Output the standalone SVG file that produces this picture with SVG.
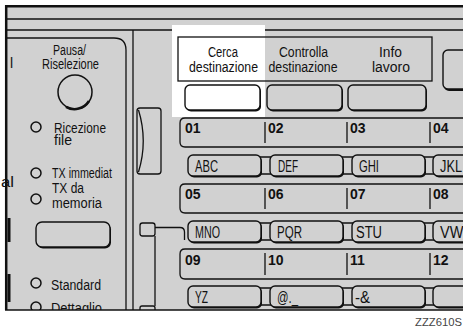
<svg xmlns="http://www.w3.org/2000/svg" width="463" height="329" viewBox="0 0 463 329">
<style>
text{font-family:"Liberation Sans","DejaVu Sans",sans-serif;fill:#111}
.lb{font-size:14px}
.num{font-size:14px;font-weight:bold}
.key{font-size:16px}
.ln{stroke:#111;stroke-width:1.3;fill:none}
.sh{fill:#111}
.btn{fill:#d1d1d1;stroke:#111;stroke-width:1.4}
.rad{fill:none;stroke:#111;stroke-width:1.5}
</style>
<defs>
<clipPath id="pc"><rect x="0" y="0" width="463" height="310"/></clipPath>
</defs>
<rect width="463" height="329" fill="#fff"/>
<g id="panel" clip-path="url(#pc)">
<rect x="6" y="6" width="460" height="304" fill="#d1d1d1"/>
<rect x="172" y="25" width="93" height="92" fill="#fff"/>
<line class="ln" x1="7" y1="19" x2="463" y2="19"/>
<path class="ln" d="M7 30 H172 M265 30 H463"/>
<path class="ln" d="M7 38 H114 Q126 38 126 50 V310"/>
<line class="ln" x1="133" y1="30" x2="133" y2="310"/>
<line x1="9" y1="218" x2="9" y2="242" stroke="#111" stroke-width="3"/>
<line x1="9" y1="274" x2="9" y2="302" stroke="#111" stroke-width="3"/>
</g>

<g id="left-panel" clip-path="url(#pc)">
<text class="lb" x="10" y="68">l</text>
<text class="lb" x="1" y="187" textLength="13" lengthAdjust="spacingAndGlyphs">al</text>
<g id="pausa">
<text class="lb" x="69.5" y="55" text-anchor="middle" textLength="33" lengthAdjust="spacingAndGlyphs">Pausa/</text>
<text class="lb" x="70.5" y="68.5" text-anchor="middle" textLength="57" lengthAdjust="spacingAndGlyphs">Riselezione</text>
<circle cx="75" cy="92" r="17" fill="none" stroke="#111" stroke-width="1.5"/>
<path d="M89 101 A17 17 0 0 1 66 106.8" fill="none" stroke="#111" stroke-width="2.5"/>
</g>
<g id="ricezione">
<circle class="rad" cx="36" cy="127" r="5"/>
<text class="lb" x="54" y="133" textLength="52" lengthAdjust="spacingAndGlyphs">Ricezione</text>
<text class="lb" x="54" y="144.5" textLength="18" lengthAdjust="spacingAndGlyphs">file</text>
</g>
<g id="tx-immediat">
<circle class="rad" cx="36" cy="173" r="5"/>
<text class="lb" x="52" y="177.5" textLength="60" lengthAdjust="spacingAndGlyphs">TX immediat</text>
</g>
<g id="tx-memoria">
<circle class="rad" cx="36" cy="199" r="5"/>
<text class="lb" x="52" y="193" textLength="32" lengthAdjust="spacingAndGlyphs">TX da</text>
<text class="lb" x="52" y="207.5" textLength="50" lengthAdjust="spacingAndGlyphs">memoria</text>
</g>
<g id="left-button">
<rect class="sh" x="37" y="223.5" width="74" height="25" rx="6"/>
<rect class="btn" x="36" y="222" width="74" height="25" rx="6"/>
</g>
<g id="standard">
<circle class="rad" cx="36" cy="283" r="5"/>
<text class="lb" x="51" y="290" textLength="50" lengthAdjust="spacingAndGlyphs">Standard</text>
</g>
<g id="dettaglio">
<circle class="rad" cx="36" cy="307" r="5"/>
<text class="lb" x="51" y="313" textLength="51" lengthAdjust="spacingAndGlyphs">Dettaglio</text>
</g>
</g>

<g id="side-parts" clip-path="url(#pc)">
<rect class="ln" x="137" y="108" width="24" height="66" rx="3"/>
<path class="ln" d="M138.5 110 Q148 141 138.5 172"/>
<rect class="ln" x="140" y="223" width="15" height="13" rx="2.5"/>
<rect class="ln" x="140" y="306" width="15" height="10" rx="2"/>
</g>

<g id="connectors" clip-path="url(#pc)">
<path class="ln" d="M155 227.5 H180 Q184.5 227.5 184.5 232 V240"/>
<line class="ln" x1="155" y1="236" x2="155" y2="306"/>
</g>

<g id="function-keys">
<rect class="ln" x="178" y="37" width="254" height="44"/>
<g id="cerca">
<text class="lb" x="223" y="57" text-anchor="middle" textLength="30" lengthAdjust="spacingAndGlyphs">Cerca</text>
<text class="lb" x="223.5" y="72" text-anchor="middle" textLength="69" lengthAdjust="spacingAndGlyphs">destinazione</text>
<rect class="sh" x="186" y="86.5" width="75" height="25" rx="5"/>
<rect x="185" y="85" width="75" height="25" rx="5" fill="#fff" stroke="#111" stroke-width="1.4"/>
</g>
<g id="controlla">
<text class="lb" x="303.5" y="57" text-anchor="middle" textLength="49" lengthAdjust="spacingAndGlyphs">Controlla</text>
<text class="lb" x="303" y="72" text-anchor="middle" textLength="69" lengthAdjust="spacingAndGlyphs">destinazione</text>
<rect class="sh" x="268" y="86.5" width="75" height="25" rx="5"/>
<rect class="btn" x="267" y="85" width="75" height="25" rx="5"/>
</g>
<g id="info">
<text class="lb" x="390.5" y="57" text-anchor="middle" textLength="23" lengthAdjust="spacingAndGlyphs">Info</text>
<text class="lb" x="391" y="72" text-anchor="middle" textLength="38" lengthAdjust="spacingAndGlyphs">lavoro</text>
<rect class="sh" x="349" y="86.5" width="78" height="25" rx="5"/>
<rect class="btn" x="348" y="85" width="78" height="25" rx="5"/>
</g>
<g id="right-key">
<rect class="sh" x="444" y="52" width="30" height="39" rx="5"/>
<rect class="btn" x="443" y="50" width="30" height="39" rx="5"/>
</g>
</g>

<g id="one-touch-row1">
<path class="ln" d="M470 118 H185 Q180 118 180 123 V142 Q180 147 185 147 H470"/>
<path class="ln" d="M265 122 V143 M347 122 V143 M430 122 V143"/>
<text class="num" x="185" y="133">01</text>
<text class="num" x="268" y="133">02</text>
<text class="num" x="350" y="133">03</text>
<text class="num" x="433" y="133">04</text>
</g>
<g id="letters-row1">
<rect class="btn" x="258" y="157" width="15" height="17" rx="2"/>
<rect class="btn" x="340" y="157" width="15" height="17" rx="2"/>
<rect class="btn" x="422" y="157" width="15" height="17" rx="2"/>
<g id="abc"><rect class="sh" x="189" y="156.5" width="73" height="21" rx="5"/><rect class="btn" x="188" y="155" width="73" height="21" rx="5"/><text class="key" x="195" y="172" textLength="23" lengthAdjust="spacingAndGlyphs">ABC</text></g>
<g id="def"><rect class="sh" x="271" y="156.5" width="73" height="21" rx="5"/><rect class="btn" x="270" y="155" width="73" height="21" rx="5"/><text class="key" x="278" y="172" textLength="20" lengthAdjust="spacingAndGlyphs">DEF</text></g>
<g id="ghi"><rect class="sh" x="353" y="156.5" width="73" height="21" rx="5"/><rect class="btn" x="352" y="155" width="73" height="21" rx="5"/><text class="key" x="359" y="172" textLength="20" lengthAdjust="spacingAndGlyphs">GHI</text></g>
<g id="jkl"><rect class="sh" x="434" y="156.5" width="73" height="21" rx="5"/><rect class="btn" x="433" y="155" width="73" height="21" rx="5"/><text class="key" x="440" y="172" textLength="22" lengthAdjust="spacingAndGlyphs">JKL</text></g>
</g>

<g id="one-touch-row2">
<path class="ln" d="M470 184 H185 Q180 184 180 189 V208 Q180 213 185 213 H470"/>
<path class="ln" d="M265 188 V209 M347 188 V209 M430 188 V209"/>
<text class="num" x="185" y="199">05</text>
<text class="num" x="268" y="199">06</text>
<text class="num" x="350" y="199">07</text>
<text class="num" x="433" y="199">08</text>
</g>
<g id="letters-row2">
<rect class="btn" x="258" y="223" width="15" height="17" rx="2"/>
<rect class="btn" x="340" y="223" width="15" height="17" rx="2"/>
<rect class="btn" x="422" y="223" width="15" height="17" rx="2"/>
<g id="mno"><rect class="sh" x="189" y="222.5" width="73" height="21" rx="5"/><rect class="btn" x="188" y="221" width="73" height="21" rx="5"/><text class="key" x="195" y="238" textLength="25" lengthAdjust="spacingAndGlyphs">MNO</text></g>
<g id="pqr"><rect class="sh" x="271" y="222.5" width="73" height="21" rx="5"/><rect class="btn" x="270" y="221" width="73" height="21" rx="5"/><text class="key" x="277" y="238" textLength="25" lengthAdjust="spacingAndGlyphs">PQR</text></g>
<g id="stu"><rect class="sh" x="353" y="222.5" width="73" height="21" rx="5"/><rect class="btn" x="352" y="221" width="73" height="21" rx="5"/><text class="key" x="356" y="238" textLength="26" lengthAdjust="spacingAndGlyphs">STU</text></g>
<g id="vwx"><rect class="sh" x="434" y="222.5" width="73" height="21" rx="5"/><rect class="btn" x="433" y="221" width="73" height="21" rx="5"/><text class="key" x="440" y="238" textLength="33" lengthAdjust="spacingAndGlyphs">VWX</text></g>
</g>

<g id="one-touch-row3">
<path class="ln" d="M470 249 H185 Q180 249 180 254 V274 Q180 279 185 279 H470"/>
<path class="ln" d="M265 253 V275 M347 253 V275 M430 253 V275"/>
<text class="num" x="185" y="265">09</text>
<text class="num" x="268" y="265">10</text>
<text class="num" x="350" y="265">11</text>
<text class="num" x="433" y="265">12</text>
</g>
<g id="letters-row3" clip-path="url(#pc)">
<rect class="btn" x="258" y="288" width="15" height="17" rx="2"/>
<rect class="btn" x="340" y="288" width="15" height="17" rx="2"/>
<rect class="btn" x="422" y="288" width="15" height="17" rx="2"/>
<g id="yz"><rect class="sh" x="189" y="287.5" width="73" height="21" rx="5"/><rect class="btn" x="188" y="286" width="73" height="21" rx="5"/><text class="key" x="195" y="303" textLength="13" lengthAdjust="spacingAndGlyphs">YZ</text></g>
<g id="at"><rect class="sh" x="271" y="287.5" width="73" height="21" rx="5"/><rect class="btn" x="270" y="286" width="73" height="21" rx="5"/><text class="key" x="277" y="303" textLength="21" lengthAdjust="spacingAndGlyphs">@._</text></g>
<g id="amp"><rect class="sh" x="353" y="287.5" width="73" height="21" rx="5"/><rect class="btn" x="352" y="286" width="73" height="21" rx="5"/><text class="key" x="355" y="303" textLength="15" lengthAdjust="spacingAndGlyphs">-&amp;</text></g>
<g id="blank"><rect class="sh" x="434" y="287.5" width="73" height="21" rx="5"/><rect class="btn" x="433" y="286" width="73" height="21" rx="5"/></g>
</g>

<g id="border">
<line x1="5" y1="6.2" x2="463" y2="6.2" stroke="#111" stroke-width="2.5"/>
<line x1="6.2" y1="5" x2="6.2" y2="310" stroke="#111" stroke-width="2.5"/>
<line x1="5" y1="310" x2="463" y2="310" stroke="#111" stroke-width="1.6"/>
</g>
<text x="415" y="326" font-size="11" style="fill:#444" textLength="47" lengthAdjust="spacingAndGlyphs">ZZZ610S</text>
</svg>
